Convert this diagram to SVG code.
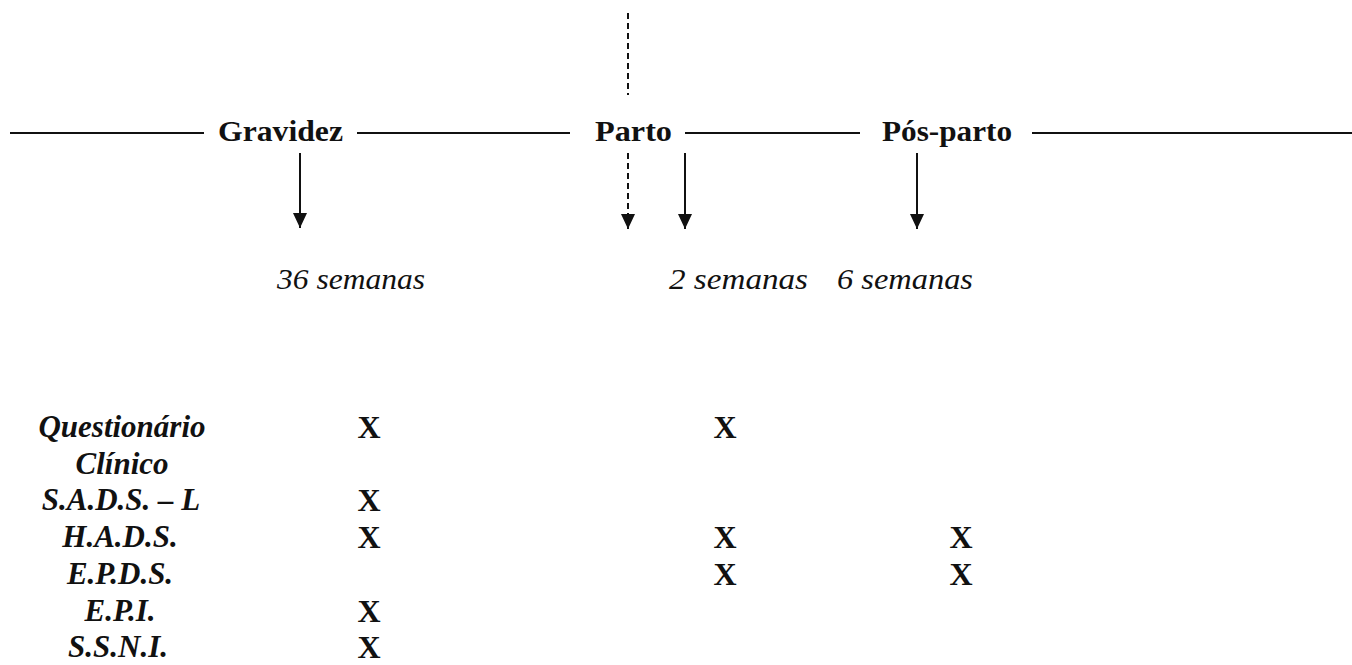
<svg xmlns="http://www.w3.org/2000/svg" width="1352" height="665" viewBox="0 0 1352 665">
  <style>
    .line { stroke: #111; stroke-width: 2; fill: none; }
    .dash { stroke: #111; stroke-width: 2; fill: none; stroke-dasharray: 6 4; }
    .phase { font-family: "Liberation Serif", "Times New Roman", serif; font-weight: bold; font-size: 30px; fill: #111; }
    .time { font-family: "Liberation Serif", "Times New Roman", serif; font-style: italic; font-size: 30px; fill: #111; }
    .inst { font-family: "Liberation Serif", "Times New Roman", serif; font-style: italic; font-weight: bold; font-size: 31px; fill: #111; text-anchor: middle; }
    .mark { font-family: "Liberation Serif", "Times New Roman", serif; font-weight: bold; font-size: 32px; fill: #111; text-anchor: middle; }
  </style>
  <defs>
    <marker id="head" markerUnits="userSpaceOnUse" markerWidth="15" markerHeight="14" refX="15" refY="7" orient="auto" viewBox="0 0 15 14">
      <path d="M0,0 L15,7 L0,14 Z" fill="#111"/>
    </marker>
  </defs>
  <rect width="1352" height="665" fill="#ffffff"/>

  <g id="connectors">
    <line class="line" x1="10" y1="133" x2="204" y2="133"/>
    <line class="line" x1="357" y1="133" x2="570" y2="133"/>
    <line class="line" x1="685" y1="133" x2="860" y2="133"/>
    <line class="line" x1="1032" y1="133" x2="1352" y2="133"/>
    <line class="dash" x1="628" y1="13" x2="628" y2="95"/>
    <line class="dash" x1="628" y1="153" x2="628" y2="229" marker-end="url(#head)"/>
    <line class="line" x1="300" y1="153" x2="300" y2="228" marker-end="url(#head)"/>
    <line class="line" x1="685" y1="153" x2="685" y2="229" marker-end="url(#head)"/>
    <line class="line" x1="917" y1="153" x2="917" y2="229" marker-end="url(#head)"/>
  </g>

  <g id="gravidez"><text class="phase" x="218" y="141" textLength="125" lengthAdjust="spacingAndGlyphs">Gravidez</text></g>
  <g id="parto"><text class="phase" x="595" y="141" textLength="77" lengthAdjust="spacingAndGlyphs">Parto</text></g>
  <g id="pos-parto"><text class="phase" x="882" y="141" textLength="130" lengthAdjust="spacingAndGlyphs">Pós-parto</text></g>

  <g id="t36"><text class="time" x="277" y="289" textLength="148" lengthAdjust="spacingAndGlyphs">36 semanas</text></g>
  <g id="t2"><text class="time" x="669" y="289" textLength="139" lengthAdjust="spacingAndGlyphs">2 semanas</text></g>
  <g id="t6"><text class="time" x="837" y="289" textLength="136" lengthAdjust="spacingAndGlyphs">6 semanas</text></g>

  <g id="instruments">
    <text class="inst" x="122" y="437">Questionário</text>
    <text class="inst" x="122" y="474">Clínico</text>
    <text class="inst" x="121" y="510">S.A.D.S. – L</text>
    <text class="inst" x="120" y="547">H.A.D.S.</text>
    <text class="inst" x="120" y="584">E.P.D.S.</text>
    <text class="inst" x="120" y="621">E.P.I.</text>
    <text class="inst" x="118" y="657">S.S.N.I.</text>
  </g>

  <g id="marks">
    <text class="mark" x="369" y="438">X</text>
    <text class="mark" x="369" y="511">X</text>
    <text class="mark" x="369" y="548">X</text>
    <text class="mark" x="369" y="622">X</text>
    <text class="mark" x="369" y="658">X</text>
    <text class="mark" x="725" y="438">X</text>
    <text class="mark" x="725" y="548">X</text>
    <text class="mark" x="725" y="585">X</text>
    <text class="mark" x="961" y="548">X</text>
    <text class="mark" x="961" y="585">X</text>
  </g>
</svg>
